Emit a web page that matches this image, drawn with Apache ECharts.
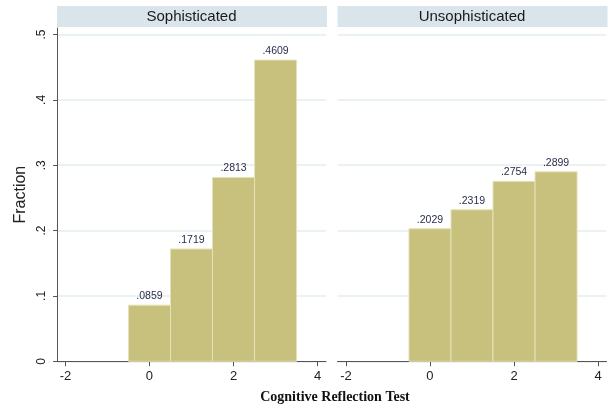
<!DOCTYPE html>
<html>
<head>
<meta charset="utf-8">
<script src="https://cdn.jsdelivr.net/npm/echarts@6/dist/echarts.min.js"></script>
<style>
  html, body { margin: 0; padding: 0; background: #fff; }
  #chart { width: 611px; height: 411px; }
</style>
</head>
<body>
<div id="chart"></div>
<script>
// CRT score categories and the fraction of each group at every score
const scores = [0, 1, 2, 3];
const sophisticated = [0.0859, 0.1719, 0.2813, 0.4609];
const unsophisticated = [0.2029, 0.2319, 0.2754, 0.2899];
const panelTitles = ['Sophisticated', 'Unsophisticated'];
const xTicks = [-2, 0, 2, 4];
const yTicks = [0, 0.1, 0.2, 0.3, 0.4, 0.5];

const BAR_FILL = '#c8c17d';
const BAR_EDGE = '#e6e2b8';
const AXIS_COLOR = '#555';
const GRID_COLOR = '#e4eef0';
const STRIP_COLOR = '#d9e5eb';

// ".25" style labels: drop the leading zero
function stataNum(v, digits) {
  if (v === 0) return '0';
  let s = digits != null ? v.toFixed(digits) : String(+v.toFixed(4));
  return s.replace(/^0\./, '.').replace(/^-0\./, '-.');
}

const panels = [
  { left: 57, width: 269 },
  { left: 337.5, width: 269 }
];
const gridTop = 28;
const gridBottom = 411 - 361.3;

function renderBar(params, api) {
  const x = api.value(0), y = api.value(1);
  const p0 = api.coord([x - 0.5, y]);
  const p1 = api.coord([x + 0.5, 0]);
  return {
    type: 'rect',
    shape: { x: p0[0], y: p0[1], width: p1[0] - p0[0], height: p1[1] - p0[1] },
    style: { fill: BAR_FILL, stroke: BAR_EDGE, lineWidth: 1 },
    textContent: {
      style: {
        text: stataNum(y, 4),
        fontFamily: 'Liberation Sans, Arial, sans-serif',
        fontSize: 10.5,
        fill: '#2a2e4a'
      }
    },
    textConfig: { position: 'top', distance: 3 }
  };
}

const grids = panels.map(p => ({
  left: p.left, width: p.width, top: gridTop, bottom: gridBottom, containLabel: false
}));

const xAxes = panels.map((p, i) => ({
  type: 'value', gridIndex: i, min: -2.2, max: 4.2,
  axisLine: { show: true, onZero: false, lineStyle: { color: AXIS_COLOR, width: 1 } },
  axisTick: { show: true, length: 5, customValues: xTicks, lineStyle: { color: AXIS_COLOR } },
  axisLabel: {
    customValues: xTicks, margin: 9, color: '#222', fontSize: 13,
    fontFamily: 'Liberation Sans, Arial, sans-serif',
    formatter: v => String(v)
  },
  splitLine: { show: false }
}));

const yAxes = panels.map((p, i) => ({
  type: 'value', gridIndex: i, min: 0, max: 0.51,
  name: i === 0 ? 'Fraction' : '',
  nameLocation: 'middle', nameGap: 28, nameRotate: 90,
  nameTextStyle: { fontSize: 16, color: '#222', fontFamily: 'Liberation Sans, Arial, sans-serif' },
  axisLine: { show: i === 0, onZero: false, lineStyle: { color: AXIS_COLOR, width: 1 } },
  axisTick: { show: i === 0, length: 4, customValues: yTicks, lineStyle: { color: AXIS_COLOR } },
  axisLabel: {
    show: i === 0, customValues: yTicks, rotate: 90, margin: 9,
    color: '#222', fontSize: 12, fontFamily: 'Liberation Sans, Arial, sans-serif',
    formatter: v => stataNum(v)
  },
  splitLine: { show: true, lineStyle: { color: GRID_COLOR, width: 1.5 } }
}));

const seriesData = [sophisticated, unsophisticated];
const series = seriesData.map((vals, i) => ({
  type: 'custom', xAxisIndex: i, yAxisIndex: i,
  renderItem: renderBar,
  encode: { x: 0, y: 1 },
  data: scores.map((s, k) => [s, vals[k]]),
  clip: false
}));

// panel header strips and the shared x title
const strips = [];
panels.forEach((p, i) => {
  strips.push({
    type: 'rect', left: p.left, top: 6,
    shape: { width: p.width + 1, height: 21 },
    style: { fill: STRIP_COLOR }
  });
  strips.push({
    type: 'text', x: p.left + p.width / 2, y: 16.5,
    style: {
      text: panelTitles[i], fill: '#1a1a1a', fontSize: 15,
      fontFamily: 'Liberation Sans, Arial, sans-serif',
      align: 'center', verticalAlign: 'middle'
    }
  });
});
strips.push({
  type: 'text', x: 335, y: 397,
  style: {
    text: 'Cognitive Reflection Test', fill: '#111', fontSize: 14, fontWeight: 'bold',
    fontFamily: 'Liberation Serif, Times New Roman, serif',
    align: 'center', verticalAlign: 'middle'
  }
});

const chart = echarts.init(document.getElementById('chart'), null, { renderer: 'canvas' });
chart.setOption({
  animation: false,
  backgroundColor: '#fff',
  grid: grids,
  xAxis: xAxes,
  yAxis: yAxes,
  series: series,
  graphic: strips
});
</script>
</body>
</html>
